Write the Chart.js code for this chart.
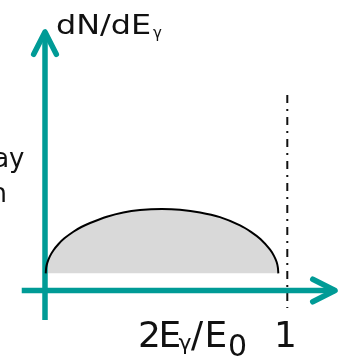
<!DOCTYPE html>
<html>
<head>
<meta charset="utf-8">
<script src="https://cdn.jsdelivr.net/npm/chart.js@4"></script>
<style>
html, body { margin: 0; padding: 0; background: #fff; }
#wrap { width: 339px; height: 360px; position: relative; }
</style>
</head>
<body>
<div id="wrap"><canvas id="spectrum"></canvas></div>
<script>
// photon energy fraction 2E/E0 and relative yield along the spectrum outline
const energyFrac = [0.003, 0.005, 0.010, 0.020, 0.035, 0.055, 0.080, 0.117, 0.150, 0.186, 0.255, 0.323, 0.392, 0.483,
    0.557, 0.640, 0.722, 0.805, 0.850, 0.890, 0.929, 0.945, 0.956, 0.961, 0.963];
const yieldVals = [0.211, 0.283, 0.345, 0.419, 0.494, 0.568, 0.640, 0.721, 0.779, 0.828, 0.905, 0.958, 0.987, 1.000,
    0.991, 0.958, 0.900, 0.800, 0.720, 0.629, 0.502, 0.425, 0.349, 0.283, 0.211];
const spectrumFloor = 0.211;

// kinematic endpoint at 2E/E0 = 1
const endpointX = [1, 1];
const endpointY = [2.4, -0.215];

// arrow axes, from tail to tip (data units)
const xAxisSpan = [-0.096, 1.197];
const yAxisSpan = [-0.362, 3.172];

const yTitle = ['dN/dE', 'γ'];
const xTitle = ['2', 'E', 'γ', '/', 'E', '0'];
const xTickLabel = '1';
const sideText = ['ay', 'n'];

const TEAL = '#009b96';
const INK = '#111';

function drawArrowAxis(ctx, x0, y0, x1, y1) {
    const ang = Math.atan2(y1 - y0, x1 - x0);
    const len = 25, spread = 0.47;
    ctx.save();
    ctx.strokeStyle = TEAL;
    ctx.lineWidth = 5.5;
    ctx.lineCap = 'butt';
    ctx.beginPath();
    ctx.moveTo(x0, y0);
    ctx.lineTo(x1, y1);
    ctx.stroke();
    ctx.lineCap = 'round';
    ctx.lineJoin = 'round';
    ctx.beginPath();
    ctx.moveTo(x1 - len * Math.cos(ang - spread), y1 - len * Math.sin(ang - spread));
    ctx.lineTo(x1, y1);
    ctx.lineTo(x1 - len * Math.cos(ang + spread), y1 - len * Math.sin(ang + spread));
    ctx.stroke();
    ctx.restore();
}

const axesPlugin = {
    id: 'arrowAxes',
    beforeDatasetDraw(chart, args) {
        // axes go above the endpoint marker but under the spectrum
        if (args.index !== 0) return;
        const { ctx, scales: { x, y } } = chart;
        const ox = x.getPixelForValue(0);
        const oy = y.getPixelForValue(0);
        drawArrowAxis(ctx, x.getPixelForValue(xAxisSpan[0]), oy, x.getPixelForValue(xAxisSpan[1]), oy);
        drawArrowAxis(ctx, ox, y.getPixelForValue(yAxisSpan[0]), ox, y.getPixelForValue(yAxisSpan[1]));
    },
    afterDraw(chart) {
        const ctx = chart.ctx;
        ctx.save();
        ctx.fillStyle = INK;
        ctx.textBaseline = 'alphabetic';
        ctx.textAlign = 'left';

        // y title, a little wide
        ctx.save();
        ctx.translate(56, 34);
        ctx.scale(1.18, 1);
        ctx.font = '27px "DejaVu Sans"';
        ctx.fillText(yTitle[0], 0, 0);
        ctx.restore();
        ctx.font = '15px "DejaVu Sans"';
        ctx.fillText(yTitle[1], 153, 38);

        // x title
        ctx.font = '36px "DejaVu Sans"';
        ctx.fillText(xTitle[0], 138, 347);
        ctx.fillText(xTitle[1], 158.5, 347);
        ctx.font = '22px "DejaVu Sans"';
        ctx.fillText(xTitle[2], 178.5, 350);
        ctx.font = '36px "DejaVu Sans"';
        ctx.fillText(xTitle[3], 191, 347);
        ctx.fillText(xTitle[4], 204.5, 347);
        ctx.font = '30px "DejaVu Sans"';
        ctx.fillText(xTitle[5], 228, 356);
        ctx.font = '36px "DejaVu Sans"';
        ctx.fillText(xTickLabel, 274, 347);

        // text running in from the left
        ctx.font = '26px "DejaVu Sans"';
        ctx.textAlign = 'right';
        ctx.fillText(sideText[0], 24.5, 167);
        ctx.fillText(sideText[1], 7, 202);
        ctx.restore();
    }
};

const ctx = document.getElementById('spectrum').getContext('2d');
new Chart(ctx, {
    type: 'line',
    data: {
        datasets: [{
            data: energyFrac.map((e, i) => ({ x: e, y: yieldVals[i] })),
            borderColor: '#000',
            borderWidth: 2,
            backgroundColor: '#d9d9d9',
            fill: { value: spectrumFloor },
            tension: 0.3,
            pointRadius: 0,
            clip: false
        }, {
            data: endpointX.map((e, i) => ({ x: e, y: endpointY[i] })),
            borderColor: '#111',
            borderWidth: 2,
            borderDash: [8, 6, 2, 6],
            fill: false,
            pointRadius: 0,
            clip: false
        }]
    },
    options: {
        responsive: true,
        maintainAspectRatio: false,
        animation: false,
        events: [],
        layout: { padding: { left: 45, right: 51.7, top: 209, bottom: 69.5 } },
        plugins: {
            legend: { display: false },
            tooltip: { enabled: false }
        },
        scales: {
            x: { type: 'linear', min: 0, max: 1, display: false },
            y: { type: 'linear', min: 0, max: 1, display: false }
        }
    },
    plugins: [axesPlugin]
});
</script>
</body>
</html>
